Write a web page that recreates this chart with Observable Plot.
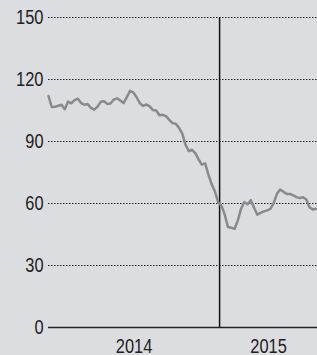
<!DOCTYPE html>
<html><head><meta charset="utf-8">
<script src="https://cdn.jsdelivr.net/npm/d3@7"></script>
<script src="https://cdn.jsdelivr.net/npm/@observablehq/plot@0.6"></script>
<style>html,body{margin:0;padding:0;background:#dcdde0;}</style>
</head><body><div id="chart"></div>
<script>
const firstWeek = "2013-12-30";
const prices = [112, 106.7, 106.8, 107.3, 107.8, 105.6, 109.3, 108.5, 110, 110.7,
  108.6, 107.8, 108.1, 106.3, 105.4, 106.8, 109.2, 109.5, 108.2, 108.4,
  110.3, 110.9, 109.8, 108.6, 111.5, 114.5, 113.7, 111.4, 108.5, 107.2,
  107.9, 107, 105.2, 105, 102.7, 102.9, 102.3, 100.5, 98.9, 98.6,
  96.6, 93.8, 88.4, 85.3, 86, 84.4, 81.3, 78.8, 79.4, 74,
  69.3, 65.8, 60.5, 59, 54.6, 48.6, 48.3, 47.7, 51.7, 57.4,
  60.7, 59.6, 61.6, 58, 54.6, 55.5, 56.2, 56.7, 57.4, 60.2,
  64.7, 66.8, 65.7, 64.6, 64.6, 63.9, 63.1, 62.7, 63, 61.9,
  58.1, 57.1, 57.5];
const yTicks = [0, 30, 60, 90, 120, 150];
const yearLabels = ["2014", "2015"];
const yearBoundary = "2015-01-01";
const xDomain = ["2013-12-30", "2015-07-30"];

const d0 = new Date(firstWeek);
const data = prices.map((p, i) => ({date: d3.utcDay.offset(d0, 7 * i), price: p}));
const dom = xDomain.map(d => new Date(d));
const bnd = new Date(yearBoundary);
const mids = [
  new Date((+dom[0] + +bnd) / 2),
  new Date((+bnd + +dom[1]) / 2)
];
const font = "'Liberation Sans', Arial, sans-serif";

const chart = Plot.plot({
  width: 317,
  height: 355,
  marginLeft: 48,
  marginRight: 0,
  marginTop: 17,
  marginBottom: 28,
  style: {background: "#dcdde0", fontFamily: font, fontSize: "20px", color: "#222"},
  x: {type: "utc", domain: dom, axis: null},
  y: {domain: [0, 150], ticks: yTicks},
  marks: [
    Plot.gridY(yTicks.filter(d => d > 0), {stroke: "#222", strokeOpacity: 1, strokeWidth: 1, strokeDasharray: "1.5,1.5"}),
    Plot.axisY(yTicks, {tickSize: 0, tickPadding: 5, fontSize: 20, fill: "#222", label: null}),
    Plot.ruleY([0], {stroke: "#222", strokeWidth: 1.5}),
    Plot.ruleX([bnd], {y1: 0, y2: 150, stroke: "#111", strokeWidth: 1.5}),
    Plot.line(data, {x: "date", y: "price", stroke: "#8a8a8a", strokeWidth: 2.5}),
    Plot.text(yearLabels, {x: (d, i) => mids[i], text: d => d, frameAnchor: "bottom", lineAnchor: "bottom", dy: 25, fontSize: 20, fill: "#222"})
  ]
});
document.getElementById("chart").appendChild(chart);
// condense glyphs to mimic the narrow typeface of the original
chart.querySelectorAll("text").forEach(t => {
  const w = t.getComputedTextLength();
  if (w > 0) {
    t.setAttribute("textLength", (w * 0.82).toFixed(1));
    t.setAttribute("lengthAdjust", "spacingAndGlyphs");
  }
});
</script>
</body></html>
